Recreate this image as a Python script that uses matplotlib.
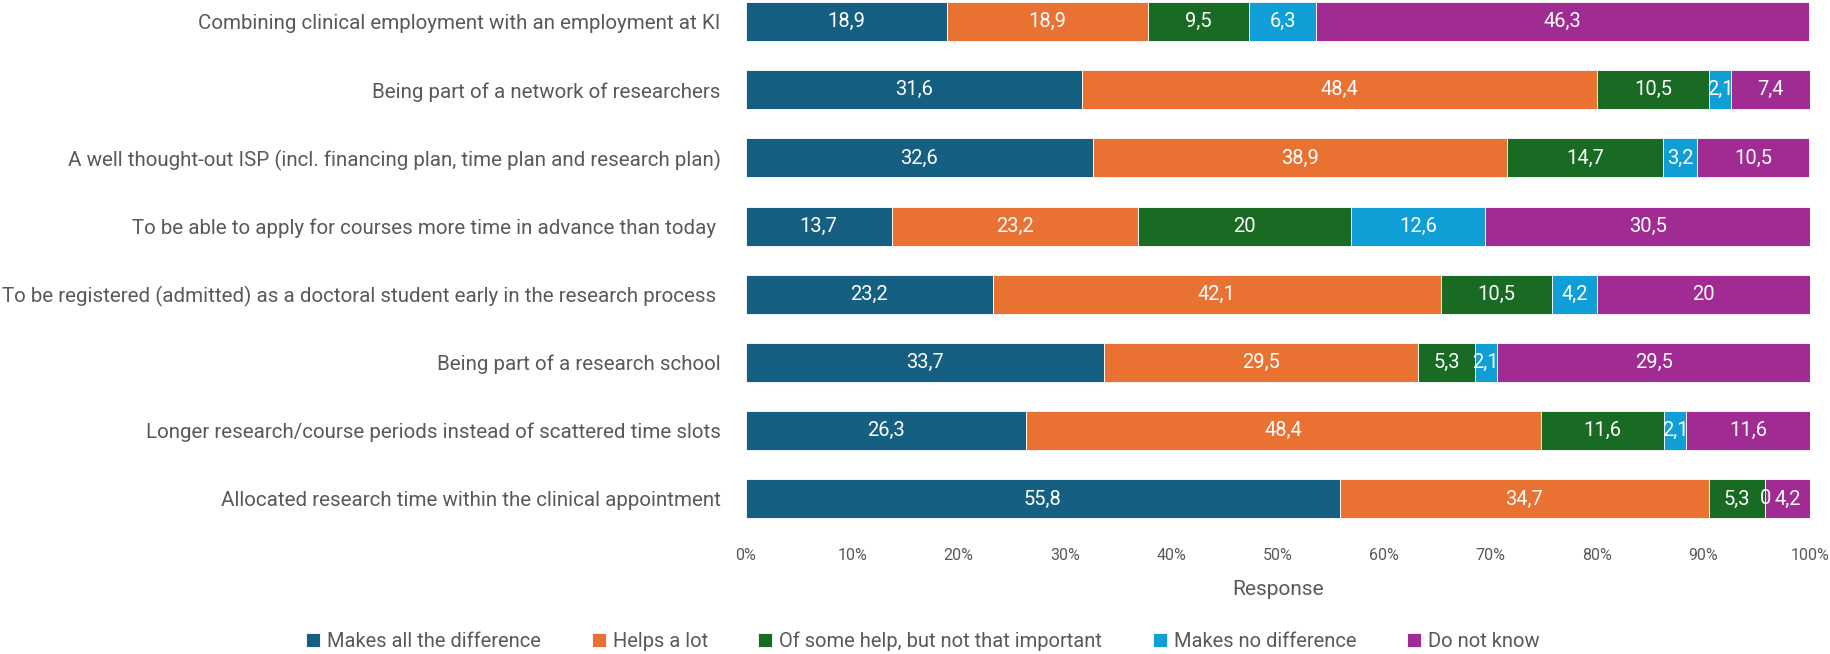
import numpy as np
import matplotlib
matplotlib.use("Agg")
import matplotlib.pyplot as plt
from matplotlib.font_manager import fontManager

# categories top to bottom
questions = [
    "Combining clinical employment with an employment at KI",
    "Being part of a network of researchers",
    "A well thought-out ISP (incl. financing plan, time plan and research plan)",
    "To be able to apply for courses more time in advance than today ",
    "To be registered (admitted) as a doctoral student early in the research process ",
    "Being part of a research school",
    "Longer research/course periods instead of scattered time slots",
    "Allocated research time within the clinical appointment",
]
responses = ["Makes all the difference", "Helps a lot",
             "Of some help, but not that important", "Makes no difference", "Do not know"]

makes_all = [18.9, 31.6, 32.6, 13.7, 23.2, 33.7, 26.3, 55.8]
helps_lot = [18.9, 48.4, 38.9, 23.2, 42.1, 29.5, 48.4, 34.7]
some_help = [9.5, 10.5, 14.7, 20, 10.5, 5.3, 11.6, 5.3]
no_diff = [6.3, 2.1, 3.2, 12.6, 4.2, 2.1, 2.1, 0]
dont_know = [46.3, 7.4, 10.5, 30.5, 20, 29.5, 11.6, 4.2]

colors = ["#156082", "#E97132", "#196B24", "#0F9ED5", "#A02B93"]

installed = {f.name for f in fontManager.ttflist}
narrow = "Liberation Sans Narrow" if "Liberation Sans Narrow" in installed else "Roboto"
label_font = "Roboto" if "Roboto" in installed else "DejaVu Sans"
gray = "#595959"

fig = plt.figure(figsize=(18.31, 6.54), dpi=100)
ax = fig.add_axes([0.4073, 0.185, 0.5812, 0.815])

series = [makes_all, helps_lot, some_help, no_diff, dont_know]
y = np.arange(len(questions))
left = np.zeros(len(questions))
for vals, col, name in zip(series, colors, responses):
    vals = np.array(vals, dtype=float)
    ax.barh(y, vals, left=left, height=0.571, color=col, edgecolor="white",
            linewidth=0.6, label=name)
    for yi, (l, v) in enumerate(zip(left, vals)):
        txt = f"{v:g}".replace(".", ",")
        ax.text(l + v / 2, yi, txt, ha="center", va="center", color="white",
                fontsize=14.5, family=label_font)
    left += vals

ax.set_xlim(0, 100)
ax.set_ylim(7.5, -0.316)
ax.set_yticks(y)
ax.set_yticklabels(questions, fontsize=14.8, family=narrow, color=gray)
ax.set_xticks(np.arange(0, 101, 10))
ax.set_xticklabels([f"{t}%" for t in range(0, 101, 10)], fontsize=11.5,
                   family=narrow, color=gray)
ax.tick_params(axis="both", length=0)
ax.tick_params(axis="y", pad=18)
ax.tick_params(axis="x", pad=11)
for s in ax.spines.values():
    s.set_visible(False)
ax.set_xlabel("Response", fontsize=15, family=narrow, color=gray, labelpad=12)

fig.legend(loc="center", bbox_to_anchor=(0.504, 1 - 641 / 654), ncol=5,
           frameon=False, prop={"family": narrow, "size": 14.5},
           handlelength=0.7, handleheight=0.7, handletextpad=0.35,
           columnspacing=2.5, labelcolor=gray)

fig.savefig("out.png", dpi=100)
